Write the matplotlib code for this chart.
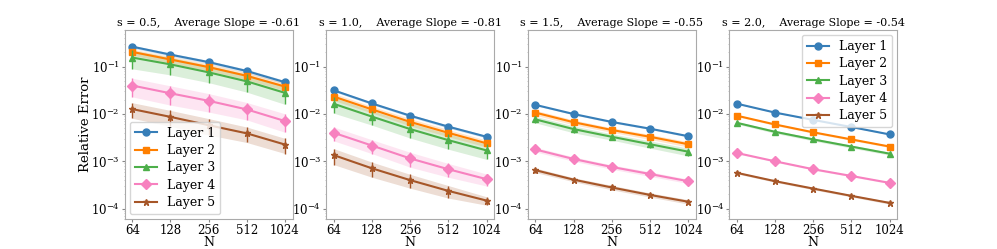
import numpy as np
import matplotlib
matplotlib.use("Agg")
import matplotlib.pyplot as plt
from matplotlib.ticker import NullLocator

plt.rcParams["font.family"] = "DejaVu Serif"
plt.rcParams["mathtext.fontset"] = "dejavuserif"
plt.rcParams["font.size"] = 8

# ── data ────────────────────────────────────────────────────────────────────
N = [64, 128, 256, 512, 1024]
s_values = [0.5, 1.0, 1.5, 2.0]
avg_slopes = [-0.61, -0.81, -0.55, -0.54]
layers = ["Layer 1", "Layer 2", "Layer 3", "Layer 4", "Layer 5"]

# mean relative error per panel (rows = layers)
err_s05 = [
    [0.265, 0.18, 0.125, 0.081, 0.047],
    [0.205, 0.142, 0.098, 0.064, 0.038],
    [0.156, 0.112, 0.076, 0.049, 0.028],
    [0.040, 0.0274, 0.019, 0.0125, 0.0071],
    [0.0127, 0.0087, 0.0058, 0.0039, 0.00226],
]
err_s10 = [
    [0.0316, 0.0167, 0.0092, 0.0054, 0.0033],
    [0.0233, 0.0125, 0.0068, 0.0040, 0.0024],
    [0.0164, 0.0088, 0.0048, 0.0028, 0.0017],
    [0.0040, 0.00215, 0.00115, 0.00068, 0.00042],
    [0.00135, 0.00071, 0.00040, 0.000237, 0.000148],
]
err_s15 = [
    [0.0156, 0.0100, 0.0068, 0.0049, 0.0034],
    [0.0107, 0.0067, 0.0046, 0.0033, 0.0023],
    [0.0077, 0.0048, 0.0033, 0.0023, 0.0016],
    [0.00178, 0.00112, 0.00076, 0.00054, 0.00038],
    [0.00065, 0.00041, 0.00028, 0.000195, 0.00014],
]
err_s20 = [
    [0.0165, 0.0107, 0.0075, 0.0053, 0.0037],
    [0.0092, 0.0060, 0.0041, 0.0029, 0.00205],
    [0.0065, 0.0042, 0.0029, 0.00205, 0.00145],
    [0.0015, 0.0010, 0.00068, 0.00049, 0.00035],
    [0.00057, 0.00038, 0.000265, 0.000186, 0.000132],
]

# standard deviation across runs
std_s05 = [
    [0.02, 0.014, 0.01, 0.007, 0.004],
    [0.03, 0.022, 0.016, 0.011, 0.007],
    [0.066, 0.045, 0.03, 0.02, 0.012],
    [0.017, 0.012, 0.008, 0.005, 0.003],
    [0.0046, 0.0032, 0.0022, 0.0014, 0.0008],
]
std_s10 = [
    [0.002, 0.001, 0.0006, 0.0004, 0.0002],
    [0.004, 0.002, 0.0012, 0.0007, 0.0004],
    [0.006, 0.003, 0.0017, 0.001, 0.0006],
    [0.0013, 0.0007, 0.0004, 0.00022, 0.00012],
    [0.0005, 0.00025, 0.00013, 0.00007, 0.00003],
]
std_s15 = [
    [0.0006, 0.0004, 0.0003, 0.0002, 0.00015],
    [0.0013, 0.0008, 0.0005, 0.0004, 0.0003],
    [0.0012, 0.0008, 0.0005, 0.0004, 0.0003],
    [0.0002, 0.00012, 0.00008, 0.00006, 0.00004],
    [0.00007, 0.00004, 0.00003, 0.00002, 0.000015],
]
std_s20 = [
    [0.0003, 0.0002, 0.00015, 0.0001, 0.00007],
    [0.0004, 0.0003, 0.0002, 0.00015, 0.0001],
    [0.0004, 0.0003, 0.0002, 0.00015, 0.0001],
    [0.00006, 0.00004, 0.00003, 0.00002, 0.000015],
    [0.00003, 0.00002, 0.000015, 0.00001, 0.000008],
]

errors = [err_s05, err_s10, err_s15, err_s20]
stds = [std_s05, std_s10, std_s15, std_s20]

colors = ["#377eb8", "#ff7f00", "#4daf4a", "#f781bf", "#a65628"]
markers = ["o", "s", "^", "D", "*"]

# ── plot ────────────────────────────────────────────────────────────────────
fig, axes = plt.subplots(1, 4, figsize=(9.97, 2.49), dpi=100)
fig.subplots_adjust(bottom=0.12)

for k, ax in enumerate(axes):
    for i, name in enumerate(layers):
        m = np.array(errors[k][i])
        sd = np.array(stds[k][i])
        ax.fill_between(N, m - sd, m + sd, color=colors[i], alpha=0.2, linewidth=0)
        ax.errorbar(N, m, yerr=sd, fmt="none", ecolor=colors[i],
                    elinewidth=1, capsize=0)
        ax.plot(N, m, color=colors[i], marker=markers[i],
                markersize=5, linewidth=1.5, label=name)
    ax.set_xscale("log", base=2)
    ax.set_yscale("log")
    ax.set_xticks(N)
    ax.set_xticklabels([str(n) for n in N])
    ax.xaxis.set_minor_locator(NullLocator())
    ax.set_ylim(6e-5, 0.6)
    ax.set_xlabel("N", fontsize=9, labelpad=-1)
    ax.set_title(f"s = {s_values[k]},    Average Slope = {avg_slopes[k]:.2f}",
                 fontsize=8, pad=3)
    for sp in ax.spines.values():
        sp.set_color("#aaaaaa")
    ax.tick_params(which="major", labelsize=8.5, length=2, pad=1.5, color="#888888")
    ax.tick_params(which="minor", length=1, color="#bbbbbb")

axes[0].set_ylabel("Relative Error", fontsize=9.5, labelpad=-1)
axes[0].legend(loc="lower left", fontsize=9, labelspacing=0.35, handlelength=1.8,
               borderaxespad=0.4)
axes[3].legend(loc="upper right", fontsize=9, labelspacing=0.35, handlelength=1.8,
               borderaxespad=0.4)

plt.savefig("out.png", dpi=100)
